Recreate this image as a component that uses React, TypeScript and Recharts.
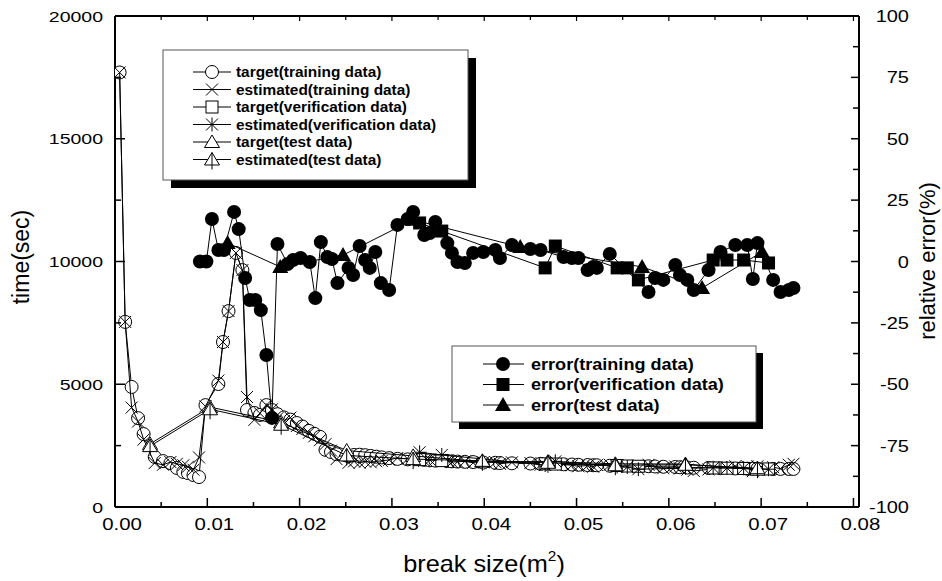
import { ScatterChart, Scatter, XAxis, YAxis } from 'recharts'

const FONT = '"Liberation Sans", Arial, Helvetica, sans-serif'

// training cases: break size (m2), target / estimated time (sec)
const trainX = [
  0.0005, 0.0011, 0.0018, 0.0025, 0.0031, 0.0043, 0.0052, 0.006, 0.0067, 0.0074, 0.0079, 0.0085,
  0.0091, 0.0098, 0.0112, 0.0117, 0.0123, 0.0131, 0.0138, 0.0143, 0.0151, 0.0157, 0.0164, 0.017,
  0.0176, 0.0183, 0.019, 0.0197, 0.0203, 0.021, 0.0216, 0.0222, 0.0228, 0.0234, 0.024, 0.0253,
  0.0259, 0.0265, 0.0271, 0.0277, 0.0283, 0.0289, 0.0297, 0.0306, 0.0317, 0.0335, 0.0341, 0.0347,
  0.036, 0.0365, 0.0371, 0.0379, 0.0388, 0.0399, 0.0412, 0.0417, 0.043, 0.045, 0.0461, 0.0486,
  0.0495, 0.0502, 0.0512, 0.0518, 0.0522, 0.0536, 0.0578, 0.0585, 0.0594, 0.0607, 0.0612, 0.062,
  0.0627, 0.0643, 0.0656, 0.0672, 0.0685, 0.0691, 0.0696, 0.0713, 0.0721, 0.073, 0.0735,
]
const trainTarget = [
  17700, 7540, 4890, 3620, 2970, 2040, 1870, 1790, 1590, 1430, 1380, 1300,
  1220, 4150, 5010, 6720, 7980, 10350, 9650, 3950, 3830, 3750, 4150, 3950,
  3780, 3650, 3560, 3420, 3280, 3100, 2980, 2860, 2330, 2240, 2150, 2100,
  2120, 2130, 2110, 2080, 2050, 2020, 1990, 1960, 1940, 1920, 1900, 1890,
  1870, 1860, 1850, 1840, 1830, 1810, 1800, 1790, 1780, 1770, 1760, 1740,
  1730, 1720, 1710, 1700, 1700, 1680, 1660, 1650, 1640, 1630, 1620, 1610,
  1600, 1590, 1580, 1570, 1560, 1560, 1560, 1550, 1550, 1550, 1550,
]
const trainEstimated = [
  17700, 7540, 4050, 3480, 2750, 1790, 1720, 1830, 1760, 1700, 1640, 1520,
  2020, 4100, 5150, 6720, 7980, 10350, 9650, 4480, 3550, 3820, 4150, 3980,
  3620, 3500, 3640, 3300, 3180, 3020, 2880, 2720, 2560, 2300, 1950, 1800,
  1860, 1800, 1850, 1820, 1860, 1880, 1920, 2000, 1960, 1880, 1920, 1930,
  1890, 1830, 1840, 1860, 1800, 1820, 1830, 1760, 1820, 1790, 1720, 1730,
  1700, 1660, 1690, 1640, 1710, 1720, 1720, 1640, 1580, 1650, 1570, 1520,
  1470, 1530, 1620, 1660, 1650, 1460, 1660, 1620, 1560, 1720, 1760,
]

// relative error (%) of the training cases
const trainErrX = [
  0.0092, 0.0099, 0.0105, 0.0112, 0.0118, 0.0129, 0.0134, 0.0141, 0.0146, 0.0152, 0.0158, 0.0164,
  0.017, 0.0176, 0.0187, 0.0193, 0.0201, 0.0211, 0.0217, 0.0223, 0.023, 0.0235, 0.0241, 0.0253,
  0.0258, 0.0265, 0.0271, 0.0276, 0.0282, 0.0288, 0.0297, 0.0306, 0.0317, 0.0323, 0.0335, 0.0341,
  0.0347, 0.036, 0.0365, 0.0371, 0.0379, 0.0388, 0.0399, 0.0412, 0.0417, 0.043, 0.045, 0.0461,
  0.0486, 0.0495, 0.0502, 0.0512, 0.0518, 0.0522, 0.0536, 0.0578, 0.0585, 0.0594, 0.0607, 0.0612,
  0.062, 0.0627, 0.0643, 0.0656, 0.0672, 0.0685, 0.0691, 0.0696, 0.0713, 0.0721, 0.073, 0.0735,
]
const trainErr = [
  0, 0, 17.3, 4.7, 4.7, 20.2, 13.2, -6.7, -15.7, -15.7, -19.8, -38.1,
  -63.7, 7.1, -1, 0.6, 1.4, -0.2, -14.9, 7.9, 1.8, 1, -8.8, -2.6,
  -5.5, 6.3, 0.6, -2.6, 3.9, -8.8, -11.6, 14.9, 17.3, 20.2, 10.8, 11.6,
  16.1, 7.5, 3.5, -0.2, -0.6, 3.5, 3.9, 4.7, 1.4, 6.7, 5.1, 4.7,
  1.8, 1.4, 1.4, -3.5, -2.2, -2.6, 3.1, -12.4, -6.7, -7.5, -1.4, -5.5,
  -7.5, -11.6, -3.5, 3.9, 6.7, 6.7, -7.1, 7.5, -7.5, -12.4, -11.6, -10.8,
]

// verification cases
const verifX = [0.033, 0.0354, 0.0466, 0.0477, 0.0544, 0.0555, 0.0567, 0.0648, 0.0663, 0.0681, 0.0708]
const verifTarget = [1930, 1890, 1760, 1750, 1690, 1670, 1660, 1590, 1580, 1570, 1550]
const verifEstimated = [2230, 2120, 1710, 1860, 1650, 1630, 1540, 1600, 1590, 1580, 1540]
const verifErr = [15.7, 12.4, -2.6, 6.3, -2.6, -2.6, -7.5, 0.6, 0.6, 0.6, -0.6]

// test cases
const testX = [0.0038, 0.0103, 0.018, 0.0251, 0.0323, 0.0398, 0.0469, 0.0542, 0.0618, 0.0696]
const testTarget = [2570, 4070, 3450, 2300, 2080, 1850, 1850, 1760, 1750, 1520]
const testEstimated = [2480, 3980, 3350, 2100, 1950, 1880, 1800, 1700, 1720, 1580]
const testErrX = [0.0122, 0.0179, 0.0247, 0.0323, 0.0439, 0.0571, 0.0636, 0.0701]
const testErr = [7.5, -2.2, 2.6, 17, 5.9, -2.2, -10.8, 3.9]

const xTicks = [
  0, 0.005, 0.01, 0.015, 0.02, 0.025, 0.03, 0.035, 0.04, 0.045, 0.05, 0.055, 0.06, 0.065, 0.07,
  0.075, 0.08,
]
const timeTicks = [0, 2500, 5000, 7500, 10000, 12500, 15000, 17500, 20000]
const errorTicks = [-100, -87.5, -75, -62.5, -50, -37.5, -25, -12.5, 0, 12.5, 25, 37.5, 50, 62.5, 75, 87.5, 100]

type Kind = 'circle' | 'cross' | 'square' | 'star' | 'triangle' | 'triCross' | 'dot' | 'block' | 'wedge'

interface Series {
  name: string
  kind: Kind
  axis: 'time' | 'error'
  data: { x: number; y: number }[]
}

const toPoints = (xs: number[], ys: number[]) => xs.map((x, i) => ({ x, y: ys[i] }))

const series: Series[] = [
  { name: 'target(training data)', kind: 'circle', axis: 'time', data: toPoints(trainX, trainTarget) },
  { name: 'estimated(training data)', kind: 'cross', axis: 'time', data: toPoints(trainX, trainEstimated) },
  { name: 'target(verification data)', kind: 'square', axis: 'time', data: toPoints(verifX, verifTarget) },
  { name: 'estimated(verification data)', kind: 'star', axis: 'time', data: toPoints(verifX, verifEstimated) },
  { name: 'target(test data)', kind: 'triangle', axis: 'time', data: toPoints(testX, testTarget) },
  { name: 'estimated(test data)', kind: 'triCross', axis: 'time', data: toPoints(testX, testEstimated) },
  { name: 'error(training data)', kind: 'dot', axis: 'error', data: toPoints(trainErrX, trainErr) },
  { name: 'error(verification data)', kind: 'block', axis: 'error', data: toPoints(verifX, verifErr) },
  { name: 'error(test data)', kind: 'wedge', axis: 'error', data: toPoints(testErrX, testErr) },
]

function Marker({ kind, cx, cy }: { kind: Kind; cx: number; cy: number }) {
  const s = { stroke: '#000', strokeWidth: 1 }
  switch (kind) {
    case 'circle':
      return <circle cx={cx} cy={cy} r={6.5} fill="#fff" {...s} />
    case 'cross':
      return (
        <path
          d={`M${cx - 6},${cy - 6}L${cx + 6},${cy + 6}M${cx - 6},${cy + 6}L${cx + 6},${cy - 6}`}
          fill="none"
          {...s}
        />
      )
    case 'square':
      return <rect x={cx - 6} y={cy - 6} width={12} height={12} fill="#fff" {...s} />
    case 'star':
      return (
        <path
          d={`M${cx - 6},${cy - 6}L${cx + 6},${cy + 6}M${cx - 6},${cy + 6}L${cx + 6},${cy - 6}M${cx},${cy - 7}L${cx},${cy + 7}M${cx - 7},${cy}L${cx + 7},${cy}`}
          fill="none"
          {...s}
        />
      )
    case 'triangle':
      return <path d={`M${cx},${cy - 7}L${cx + 7.5},${cy + 5.5}L${cx - 7.5},${cy + 5.5}Z`} fill="#fff" {...s} />
    case 'triCross':
      return (
        <g>
          <path d={`M${cx},${cy - 7}L${cx + 7.5},${cy + 5.5}L${cx - 7.5},${cy + 5.5}Z`} fill="#fff" {...s} />
          <path d={`M${cx},${cy - 7}L${cx},${cy + 10}`} {...s} />
        </g>
      )
    case 'dot':
      return <circle cx={cx} cy={cy} r={7} fill="#000" />
    case 'block':
      return <rect x={cx - 6.5} y={cy - 6.5} width={13} height={13} fill="#000" />
    case 'wedge':
      return <path d={`M${cx},${cy - 8}L${cx + 8},${cy + 6}L${cx - 8},${cy + 6}Z`} fill="#000" />
  }
  return null
}

const near = (v: number, step: number) => Math.abs(v / step - Math.round(v / step)) < 1e-6

function BottomTick(props: any) {
  const { x, y, payload } = props
  const major = near(payload.value, 0.01)
  return (
    <g>
      <line x1={x} y1={y} x2={x} y2={y - (major ? 9 : 5)} stroke="#000" strokeWidth={1.5} />
      {major && (
        <text
          transform={`translate(${x + 7},${y + 23}) scale(1.2,1)`}
          textAnchor="middle"
          fontSize={17}
          fontFamily={FONT}
          fill="#000"
        >
          {payload.value.toFixed(2)}
        </text>
      )}
    </g>
  )
}

function TopTick(props: any) {
  const { x, y, payload } = props
  const major = near(payload.value, 0.01)
  return <line x1={x} y1={y} x2={x} y2={y + (major ? 5 : 4)} stroke="#000" strokeWidth={1.2} />
}

function LeftTick(props: any) {
  const { x, y, payload } = props
  const major = near(payload.value, 5000)
  return (
    <g>
      <line x1={x} y1={y} x2={x + (major ? 10 : 6)} y2={y} stroke="#000" strokeWidth={1.5} />
      {major && (
        <text
          transform={`translate(${x - 12},${y + 5.5}) scale(1.3,1)`}
          textAnchor="end"
          fontSize={15}
          fontFamily={FONT}
          fill="#000"
        >
          {payload.value}
        </text>
      )}
    </g>
  )
}

function RightTick(props: any) {
  const { x, y, payload } = props
  const major = near(payload.value, 25)
  return (
    <g>
      <line x1={x} y1={y} x2={x - (major ? 8 : 6)} y2={y} stroke="#000" strokeWidth={1.5} />
      {major && (
        <text
          transform={`translate(${x + 50},${y + 6}) scale(1.25,1)`}
          textAnchor="end"
          fontSize={16}
          fontFamily={FONT}
          fill="#000"
        >
          {payload.value}
        </text>
      )}
    </g>
  )
}

interface BoxProps {
  x: number
  y: number
  w: number
  h: number
  shadow: number
  items: Series[]
  rows: number[]
  line: [number, number]
  markerX: number
  textX: number
  fontSize: number
  stretch: number
}

function LegendBox({ x, y, w, h, shadow, items, rows, line, markerX, textX, fontSize, stretch }: BoxProps) {
  return (
    <g>
      <rect x={x + shadow} y={y + shadow} width={w} height={h} fill="#000" />
      <rect x={x} y={y} width={w} height={h} fill="#fff" stroke="#555" strokeWidth={1} />
      {items.map((s, i) => (
        <g key={s.name}>
          <line x1={line[0]} y1={rows[i]} x2={line[1]} y2={rows[i]} stroke="#000" strokeWidth={1} />
          <Marker kind={s.kind} cx={markerX} cy={rows[i]} />
          <text
            transform={`translate(${textX},${rows[i] + fontSize * 0.36}) scale(${stretch},1)`}
            fontSize={fontSize}
            fontWeight="bold"
            fontFamily={FONT}
            fill="#000"
          >
            {s.name}
          </text>
        </g>
      ))}
    </g>
  )
}

export default function App() {
  return (
    <div style={{ position: 'absolute', left: 0, top: 0, width: 942, height: 581, background: '#fff' }}>
      <ScatterChart width={942} height={581} margin={{ top: 0, right: 23, bottom: 34, left: 55 }}>
        <XAxis
          xAxisId="b"
          dataKey="x"
          type="number"
          domain={[0, 0.0806]}
          ticks={xTicks}
          interval={0}
          allowDataOverflow
          height={40}
          tickSize={0}
          tickMargin={0}
          tickLine={false}
          axisLine={{ stroke: '#000', strokeWidth: 2 }}
          tick={(p: any) => <BottomTick {...p} />}
        />
        <XAxis
          xAxisId="t"
          orientation="top"
          dataKey="x"
          type="number"
          domain={[0, 0.0806]}
          ticks={xTicks}
          interval={0}
          allowDataOverflow
          height={16}
          tickSize={0}
          tickMargin={0}
          tickLine={false}
          axisLine={{ stroke: '#000', strokeWidth: 2 }}
          tick={(p: any) => <TopTick {...p} />}
        />
        <YAxis
          yAxisId="time"
          dataKey="y"
          type="number"
          domain={[0, 20000]}
          ticks={timeTicks}
          interval={0}
          allowDataOverflow
          width={60}
          tickSize={0}
          tickMargin={0}
          tickLine={false}
          axisLine={{ stroke: '#000', strokeWidth: 2 }}
          tick={(p: any) => <LeftTick {...p} />}
        />
        <YAxis
          yAxisId="error"
          orientation="right"
          dataKey="y"
          type="number"
          domain={[-100, 100]}
          ticks={errorTicks}
          interval={0}
          allowDataOverflow
          width={60}
          tickSize={0}
          tickMargin={0}
          tickLine={false}
          axisLine={{ stroke: '#000', strokeWidth: 2 }}
          tick={(p: any) => <RightTick {...p} />}
        />
        {series.map((s) => (
          <Scatter
            key={s.name}
            name={s.name}
            data={s.data}
            xAxisId="b"
            yAxisId={s.axis}
            line={{ stroke: '#000', strokeWidth: 1 }}
            shape={(p: any) => <Marker kind={s.kind} cx={p.cx} cy={p.cy} />}
            isAnimationActive={false}
          />
        ))}
      </ScatterChart>
      <svg
        width={942}
        height={581}
        style={{ position: 'absolute', left: 0, top: 0, pointerEvents: 'none' }}
      >
        <LegendBox
          x={163}
          y={50}
          w={305}
          h={130}
          shadow={8}
          items={series.slice(0, 6)}
          rows={[72, 89.5, 107, 124.5, 142, 159.5]}
          line={[193, 231]}
          markerX={212}
          textX={236}
          fontSize={14}
          stretch={1.1}
        />
        <LegendBox
          x={452}
          y={346}
          w={304}
          h={76}
          shadow={7}
          items={series.slice(6)}
          rows={[364, 384.5, 405]}
          line={[483, 524]}
          markerX={503}
          textX={531}
          fontSize={16}
          stretch={1.13}
        />
        <text transform="translate(29,257) rotate(-90)" textAnchor="middle" fontSize={23} fontFamily={FONT} fill="#000">
          time(sec)
        </text>
        <text transform="translate(935,261) rotate(-90)" textAnchor="middle" fontSize={22} fontFamily={FONT} fill="#000">
          relative error(%)
        </text>
        <text transform="translate(484,572) scale(1.1,1)" textAnchor="middle" fontSize={23} fontFamily={FONT} fill="#000">
          break size(m
          <tspan fontSize={14} dy={-11}>
            2
          </tspan>
          <tspan dy={11}>)</tspan>
        </text>
      </svg>
    </div>
  )
}
